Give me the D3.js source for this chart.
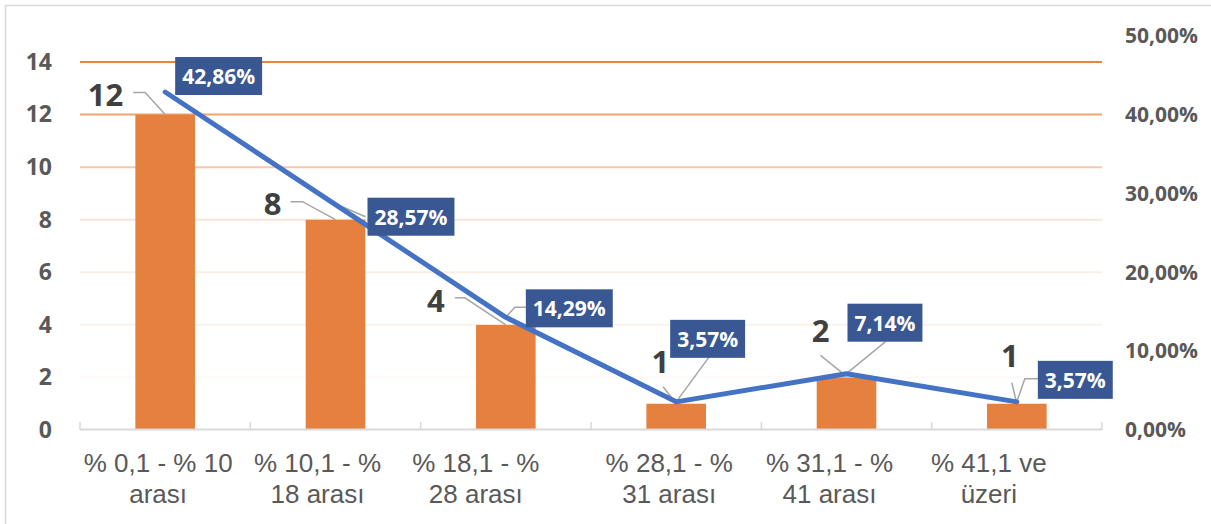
<!DOCTYPE html>
<html>
<head>
<meta charset="utf-8">
<script src="https://cdn.jsdelivr.net/npm/d3@7"></script>
<style>
  body { margin: 0; background: #fff; }
</style>
</head>
<body>
<script>
// data
var categories = ["% 0,1 - % 10 arası", "% 10,1 - % 18 arası", "% 18,1 - % 28 arası",
                  "% 28,1 - % 31 arası", "% 31,1 - % 41 arası", "% 41,1 ve üzeri"];
var tickLines = [["% 0,1 - % 10", "arası"], ["% 10,1 - %", "18 arası"], ["% 18,1 - %", "28 arası"],
                 ["% 28,1 - %", "31 arası"], ["% 31,1 - %", "41 arası"], ["% 41,1 ve", "üzeri"]];
var counts = [12, 8, 4, 1, 2, 1];
var percents = [42.86, 28.57, 14.29, 3.57, 7.14, 3.57];
var leftTicks = [0, 2, 4, 6, 8, 10, 12, 14];
var rightTicks = [0, 0.1, 0.2, 0.3, 0.4, 0.5];

// layout / style
var W = 1211, H = 524;
var plotL = 80, plotR = 1102, plotT = 62, plotB = 430;
var gridAlpha = { 2: 0.04, 4: 0.1, 6: 0.13, 8: 0.2, 10: 0.42, 12: 0.7, 14: 0.95 };
var tickShift = [-7, -18, -30, -7, -17, -28];
// count labels: text end + baseline and leader, relative to bar top
var countPos = [
  { tx: -42, ty: -9, lead: [[-32, -22], [-20, -22], [0, 0]] },
  { tx: -54, ty: -5, lead: [[-45, -18], [-33, -18], [0, 0]] },
  { tx: -61, ty: -13, lead: [[-51, -27], [-41, -27], [0, 0]] },
  { tx: -7, ty: -31, lead: [[-13, -17], [0, 0]] },
  { tx: -17, ty: -35, lead: [[-26, -22], [0, -1]] },
  { tx: 2, ty: -37, lead: [[-5, -21], [0, 0]] }
];
// percent boxes: top-left corner and leader, relative to line point
var pctPos = [
  { bx: 10, by: -35, lead: null },
  { bx: 32, by: -7, lead: [[30, 12], [2, 0]] },
  { bx: 20, by: -28, lead: [[20, -10], [9, -10], [0, 0]] },
  { bx: -6, by: -82, lead: [[33, -45], [0, 0]] },
  { bx: 1, by: -70, lead: [[39, -32], [0, 0]] },
  { bx: 21, by: -41, lead: [[21, -23], [8, -23], [0, 0]] }
];

var svg = d3.select("body").append("svg")
    .attr("width", W)
    .attr("height", H);

// chart border (top and left only visible)
svg.append("line").attr("x1", 5).attr("x2", W).attr("y1", 5.5).attr("y2", 5.5)
    .attr("stroke", "#d9d9d9").attr("stroke-width", 1.5);
svg.append("line").attr("x1", 5.5).attr("x2", 5.5).attr("y1", 5).attr("y2", H)
    .attr("stroke", "#d9d9d9").attr("stroke-width", 1.5);

var x = d3.scaleBand()
    .domain(categories)
    .range([plotL, plotR])
    .padding(0);

var y = d3.scaleLinear()
    .domain([0, 14])
    .range([plotB, plotT]);

var yR = d3.scaleLinear()
    .domain([0, 0.5])
    .range([plotB, plotB - (plotB - y(12)) * 50 / 40]);

var cx = function (i) { return x(categories[i]) + x.bandwidth() / 2; };

// gridlines
svg.append("g").selectAll("line")
    .data(leftTicks.filter(function (d) { return d > 0; }))
    .enter().append("line")
    .attr("x1", plotL).attr("x2", plotR)
    .attr("y1", function (d) { return y(d); })
    .attr("y2", function (d) { return y(d); })
    .attr("stroke", "#ED7D31")
    .attr("stroke-width", 2)
    .attr("stroke-opacity", function (d) { return gridAlpha[d]; });

// left axis
var gl = svg.append("g")
    .attr("transform", "translate(52,0)")
    .call(d3.axisLeft(y).tickValues(leftTicks).tickSize(0).tickPadding(0));
gl.select(".domain").remove();
gl.selectAll("text")
    .style("font-family", "'Open Sans', sans-serif")
    .style("font-weight", "700")
    .style("font-size", "23px")
    .attr("fill", "#595959");

// right axis
var gr = svg.append("g")
    .attr("transform", "translate(1125,0)")
    .call(d3.axisRight(yR).tickValues(rightTicks).tickSize(0).tickPadding(0)
        .tickFormat(function (d) { return d3.format(".2f")(d * 100).replace(".", ",") + "%"; }));
gr.select(".domain").remove();
gr.selectAll("text")
    .style("font-family", "'Open Sans', sans-serif")
    .style("font-weight", "700")
    .style("font-size", "21px")
    .attr("fill", "#595959");

// bars
var barW = x.bandwidth() * 0.35;
svg.append("g").selectAll("rect")
    .data(counts)
    .enter().append("rect")
    .attr("x", function (d, i) { return cx(i) - barW / 2; })
    .attr("y", function (d) { return y(d); })
    .attr("width", barW)
    .attr("height", function (d) { return plotB - y(d); })
    .attr("fill", "#E6803F");

// x axis line and boundary ticks
var gx = svg.append("g");
gx.append("line")
    .attr("x1", plotL).attr("x2", plotR)
    .attr("y1", plotB - 0.5).attr("y2", plotB - 0.5)
    .attr("stroke", "#d9d9d9").attr("stroke-width", 2);
gx.selectAll(".tk")
    .data(d3.range(categories.length + 1))
    .enter().append("line")
    .attr("class", "tk")
    .attr("x1", function (i) { return plotL + i * x.step(); })
    .attr("x2", function (i) { return plotL + i * x.step(); })
    .attr("y1", plotB - 8).attr("y2", plotB)
    .attr("stroke", "#d9d9d9").attr("stroke-width", 1.5);

// category labels
var cl = gx.selectAll(".cat")
    .data(tickLines)
    .enter().append("text")
    .attr("class", "cat")
    .attr("text-anchor", "middle")
    .style("font-family", "'Liberation Sans', Arial, sans-serif")
    .style("font-size", "26px")
    .attr("fill", "#595959");
cl.selectAll("tspan")
    .data(function (d, i) { return d.map(function (t) { return { t: t, i: i }; }); })
    .enter().append("tspan")
    .attr("x", function (d) { return cx(d.i) + tickShift[d.i]; })
    .attr("y", function (d, j) { return 472 + j * 31; })
    .text(function (d) { return d.t; });

// leaders for count labels
var leader = d3.line();
svg.append("g").selectAll("path")
    .data(counts)
    .enter().append("path")
    .attr("d", function (d, i) {
        var ax = cx(i), ay = y(d);
        return leader(countPos[i].lead.map(function (p) { return [ax + p[0], ay + p[1]]; }));
    })
    .attr("fill", "none")
    .attr("stroke", "#a6a6a6")
    .attr("stroke-width", 1.5);

// leaders for percent labels
svg.append("g").selectAll("path")
    .data(percents)
    .enter().append("path")
    .attr("d", function (d, i) {
        if (!pctPos[i].lead) return null;
        var ax = cx(i), ay = yR(d / 100);
        return leader(pctPos[i].lead.map(function (p) { return [ax + p[0], ay + p[1]]; }));
    })
    .attr("fill", "none")
    .attr("stroke", "#a6a6a6")
    .attr("stroke-width", 1.5);

// percent line
svg.append("path")
    .datum(percents)
    .attr("d", d3.line()
        .x(function (d, i) { return cx(i); })
        .y(function (d) { return yR(d / 100); }))
    .attr("fill", "none")
    .attr("stroke", "#4472C4")
    .attr("stroke-width", 5)
    .attr("stroke-linecap", "round")
    .attr("stroke-linejoin", "round");

// count labels
svg.append("g").selectAll("text")
    .data(counts)
    .enter().append("text")
    .attr("x", function (d, i) { return cx(i) + countPos[i].tx; })
    .attr("y", function (d, i) { return y(d) + countPos[i].ty; })
    .attr("text-anchor", "end")
    .style("font-family", "'Open Sans', sans-serif")
    .style("font-weight", "700")
    .style("font-size", "31px")
    .attr("fill", "#404040")
    .text(function (d) { return d; });

// percent labels in boxes
var pl = svg.append("g").selectAll("g")
    .data(percents)
    .enter().append("g")
    .attr("transform", function (d, i) {
        return "translate(" + (cx(i) + pctPos[i].bx) + "," + (yR(d / 100) + pctPos[i].by) + ")";
    });
pl.append("rect")
    .attr("height", 38)
    .attr("fill", "#385793");
var txt = pl.append("text")
    .attr("y", 27)
    .style("font-family", "'Open Sans', sans-serif")
    .style("font-weight", "700")
    .style("font-size", "21px")
    .attr("fill", "#ffffff")
    .text(function (d) { return d3.format(".2f")(d).replace(".", ",") + "%"; });
txt.each(function () {
    var w = this.getComputedTextLength();
    d3.select(this).attr("x", 7);
    d3.select(this.parentNode).select("rect").attr("width", w + 14);
});
</script>
</body>
</html>
